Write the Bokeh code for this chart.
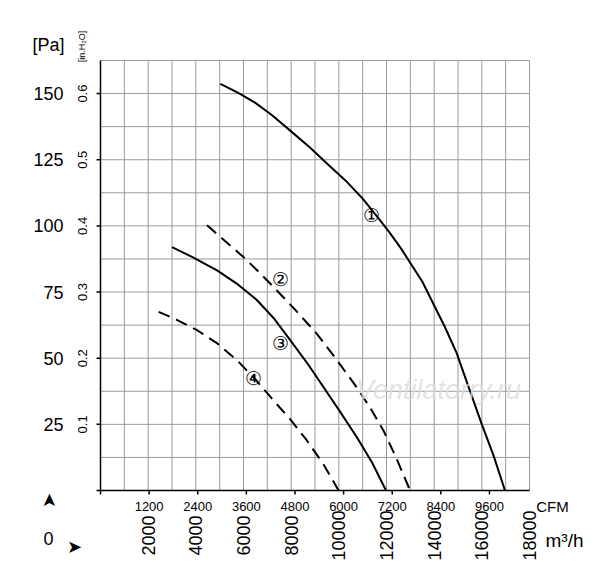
import math
from bokeh.plotting import figure
from bokeh.models import Range1d
from bokeh.core.properties import value
from bokeh.embed import file_html
from bokeh.resources import INLINE

c1_x = [5030, 5800, 6500, 7200, 7960, 8800, 9500, 10300, 11000, 11600, 12100, 12600, 13000, 13500, 13970, 14450, 14940, 15450, 16000, 16500, 16970]
c1_y = [153.7, 150.2, 146.5, 141.8, 136, 129.5, 123.6, 117, 110.3, 103.6, 97.8, 91.6, 86.0, 79, 70.5, 61.8, 52, 39, 25, 13, 0]
c2_x = [4470, 5200, 6000, 6700, 7400, 8200, 9080, 9900, 10750, 11300, 11870, 12400, 12990]
c2_y = [100.2, 94.5, 88.2, 82.1, 75.6, 68.0, 59.2, 49.5, 39, 31.5, 22.7, 12.5, 0]
c3_x = [3000, 3900, 4890, 5700, 6560, 7300, 7960, 8700, 9360, 10050, 10750, 11400, 11980]
c3_y = [92, 88.0, 83.2, 78.3, 72, 64.8, 56.8, 47.8, 39, 29.8, 20.2, 10.5, 0]
c4_x = [2440, 3200, 4050, 4900, 5730, 6500, 7260, 8000, 8660, 9350, 9990]
c4_y = [67.5, 64.5, 60.6, 55.6, 49.2, 42.0, 34, 26.5, 18.9, 10.0, 0]
pa_ticks = [25, 50, 75, 100, 125, 150]
inh2o_labels = ["0.1", "0.2", "0.3", "0.4", "0.5", "0.6"]
cfm_ticks = [1200, 2400, 3600, 4800, 6000, 7200, 8400, 9600]
m3h_ticks = [2000, 4000, 6000, 8000, 10000, 12000, 14000, 16000, 18000]
curve_labels = ["①", "②", "③", "④"]
label_x = [11380, 7570, 7570, 6400]
label_y = [103.8, 79.8, 55.7, 42.2]
CFM_TO_M3H = 1.7
X_MAX, Y_MAX = 18000, 162.5

W, H = 584, 565
FONT = "Liberation Sans"
# plot area in picture pixels: x 100..529, y 60..490
PX0, PX1, PY0, PY1 = 100, 529, 490, 60
def dx(px):
    return (px - PX0) / (PX1 - PX0) * X_MAX
def dy(py):
    return (PY0 - py) / (PY0 - PY1) * Y_MAX

p = figure(width=W, height=H, output_backend="svg", toolbar_location=None,
           x_range=Range1d(dx(0), dx(W)), y_range=Range1d(dy(H), dy(0)),
           min_border=0)
p.axis.visible = False
p.grid.visible = False
p.outline_line_color = None

gx = list(range(0, X_MAX + 1, 1000))
gy = [i * 12.5 for i in range(14)]
p.segment(x0=gx, y0=[0] * len(gx), x1=gx, y1=[Y_MAX] * len(gx), line_color="#9a9a9a", line_width=1)
p.segment(x0=[0] * len(gy), y0=gy, x1=[X_MAX] * len(gy), y1=gy, line_color="#9a9a9a", line_width=1)
p.segment(x0=[0, 0], y0=[0, 0], x1=[0, X_MAX], y1=[Y_MAX, 0], line_color="black", line_width=1.5)
tx = [0] + [c * CFM_TO_M3H for c in cfm_ticks]
p.segment(x0=tx, y0=[0] * len(tx), x1=tx, y1=[dy(PY0 + 4)] * len(tx), line_color="black", line_width=1.5)
ty = [0] + pa_ticks
p.segment(x0=[0] * len(ty), y0=ty, x1=[dx(PX0 - 4)] * len(ty), y1=ty, line_color="black", line_width=1.5)

p.line(c1_x, c1_y, line_color="black", line_width=2)
p.line(c2_x, c2_y, line_color="black", line_width=2, line_dash="12 7")
p.line(c3_x, c3_y, line_color="black", line_width=2)
p.line(c4_x, c4_y, line_color="black", line_width=2, line_dash="12 7")
p.text(label_x, label_y, text=curve_labels, text_align="center", text_baseline="middle",
       text_font_size="19px", text_color="black")
p.text([14180], [37.8], text=["Ventilatorry.ru"], text_align="center", text_baseline="middle",
       text_font_size="27px", text_font_style="italic", text_color="#dcdcdc", text_alpha=0.8)

def txt(xs, ys, texts, size, align="center", angle=0.0, font=FONT):
    p.text(xs, ys, text=texts, text_align=align, text_baseline="middle",
           text_font_size=size, angle=angle, text_font=value(font), text_color="black")

txt([dx(63)] * 6, pa_ticks, [str(v) for v in pa_ticks], "18px", align="right")
txt([dx(82)] * 6, pa_ticks, inh2o_labels, "13px", angle=math.pi / 2)
txt([c * CFM_TO_M3H for c in cfm_ticks], [dy(506)] * 8, [str(c) for c in cfm_ticks], "13px")
txt(m3h_ticks, [dy(535)] * 9, [str(m) for m in m3h_ticks], "18px", angle=math.pi / 2)
txt([dx(48)], [dy(44)], ["[Pa]"], "18px")
txt([dx(81)], [dy(46)], ["[in.H\u2082O]"], "9px", angle=math.pi / 2)
txt([dx(552)], [dy(506)], ["CFM"], "15px")
txt([dx(564)], [dy(540)], ["m\u00b3/h"], "19px")
txt([dx(48)], [dy(538)], ["0"], "18px")
txt([dx(48)], [dy(500)], ["\u27a4"], "18px", angle=math.pi / 2, font="DejaVu Sans")
txt([dx(74)], [dy(546)], ["\u27a4"], "18px", font="DejaVu Sans")

open("out.html", "w").write(file_html(p, INLINE))
